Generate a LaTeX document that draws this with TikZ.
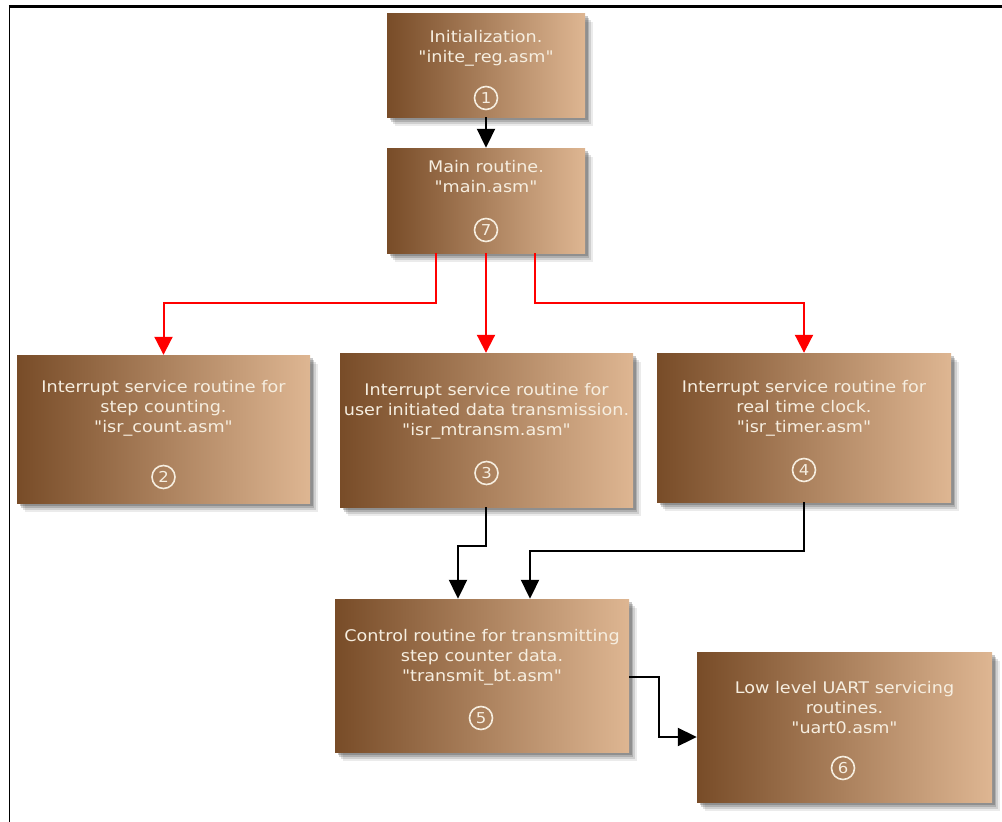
\documentclass[tikz,border=0pt]{standalone}
\usepackage{fontspec}
\newfontfamily\boxfont[FakeStretch=1.1]{DejaVu Sans}
\usetikzlibrary{arrows.meta,shadows,calc}

\definecolor{brownL}{RGB}{120,76,40}
\definecolor{brownR}{RGB}{222,182,146}
\definecolor{cream}{RGB}{246,238,224}
\definecolor{shadowgray}{RGB}{60,60,60}

\tikzset{
  box/.style={rectangle, inner sep=0pt, left color=brownL, right color=brownR,
    general shadow={fill=shadowgray, opacity=0.10, shadow xshift=8pt, shadow yshift=-9pt},
    general shadow={fill=shadowgray, opacity=0.16, shadow xshift=6pt, shadow yshift=-7pt},
    general shadow={fill=shadowgray, opacity=0.22, shadow xshift=4pt, shadow yshift=-5pt},
    general shadow={fill=shadowgray, opacity=0.28, shadow xshift=2.5pt, shadow yshift=-3pt}},
  label/.style={align=center, text=cream, inner sep=0pt,
    font=\boxfont\fontsize{16}{20}\selectfont},
  num/.style={circle, draw=cream, line width=1.6pt, minimum size=23pt, inner sep=0pt,
    text=cream, font=\boxfont\fontsize{15}{15}\selectfont},
  blk/.style={draw=black, line width=2pt, -{Triangle[width=18pt,length=19pt]}},
  rd/.style={draw=red, line width=2pt, -{Triangle[width=18pt,length=18pt]}},
}

\begin{document}
\begin{tikzpicture}[x=1pt, y=-1pt]
\useasboundingbox (0,0) rectangle (1002,822);

% outer frame (top and left edges)
\draw[line width=2.5pt] (8.8,6.5) -- (1002,6.5);
\draw[line width=1.6pt] (9.5,5.5) -- (9.5,822);

% program modules
\node[box, minimum width=198pt, minimum height=104pt] (b1) at (486,65) {};
\node[box, minimum width=198pt, minimum height=105pt] (b7) at (486,200.5) {};
\node[box, minimum width=293pt, minimum height=148pt] (b2) at (163.5,429) {};
\node[box, minimum width=293pt, minimum height=154pt] (b3) at (486.5,430) {};
\node[box, minimum width=294pt, minimum height=149pt] (b4) at (804,427.5) {};
\node[box, minimum width=294pt, minimum height=153pt] (b5) at (482,675.5) {};
\node[box, minimum width=295pt, minimum height=150pt] (b6) at (844.5,727) {};

% module descriptions
\node[label] (t1) at (486,48) {Initialization.\\"inite\_reg.asm"};
\node[label] (t7) at (486,176.5) {Main routine.\\"main.asm"};
\node[label] (t2) at (163.5,408) {Interrupt service routine for\\step counting.\\"isr\_count.asm"};
\node[label] (t3) at (486.5,411) {Interrupt service routine for\\user initiated data transmission.\\"isr\_mtransm.asm"};
\node[label] (t4) at (804,408) {Interrupt service routine for\\real time clock.\\"isr\_timer.asm"};
\node[label] (t5) at (482,657) {Control routine for transmitting\\step counter data.\\"transmit\_bt.asm"};
\node[label] (t6) at (844.5,708) {Low level UART servicing\\routines.\\"uart0.asm"};

% module numbers
\node[num] (n1) at (486,98) {1};
\node[num] (n7) at (486,230) {7};
\node[num] (n2) at (163.5,477) {2};
\node[num] (n3) at (486.5,473) {3};
\node[num] (n4) at (804,470) {4};
\node[num] (n5) at (481,718) {5};
\node[num] (n6) at (843,768) {6};

% bend points
\coordinate (r1) at (436,303);
\coordinate (r3) at (535,303);
\coordinate (k1) at (458,546);
\coordinate (k2) at (530,551);
\coordinate (k3) at (659,737);

% call flow
\draw[blk] (b1.south) -- (b7.north);
\draw[rd] (b7.south -| r1) -- (r1) -| (b2.north);
\draw[rd] (b7.south) -- (b7.south |- b3.north);
\draw[rd] (b7.south -| r3) -- (r3) -| (b4.north);
\draw[blk] (b3.south -| 486,0) |- (k1) -- (k1 |- b5.north);
\draw[blk] (b4.south) |- (k2) -- (k2 |- b5.north);
\draw[blk] (b5.east |- 0,677) -| (k3) -- (k3 -| b6.west);
\end{tikzpicture}
\end{document}
